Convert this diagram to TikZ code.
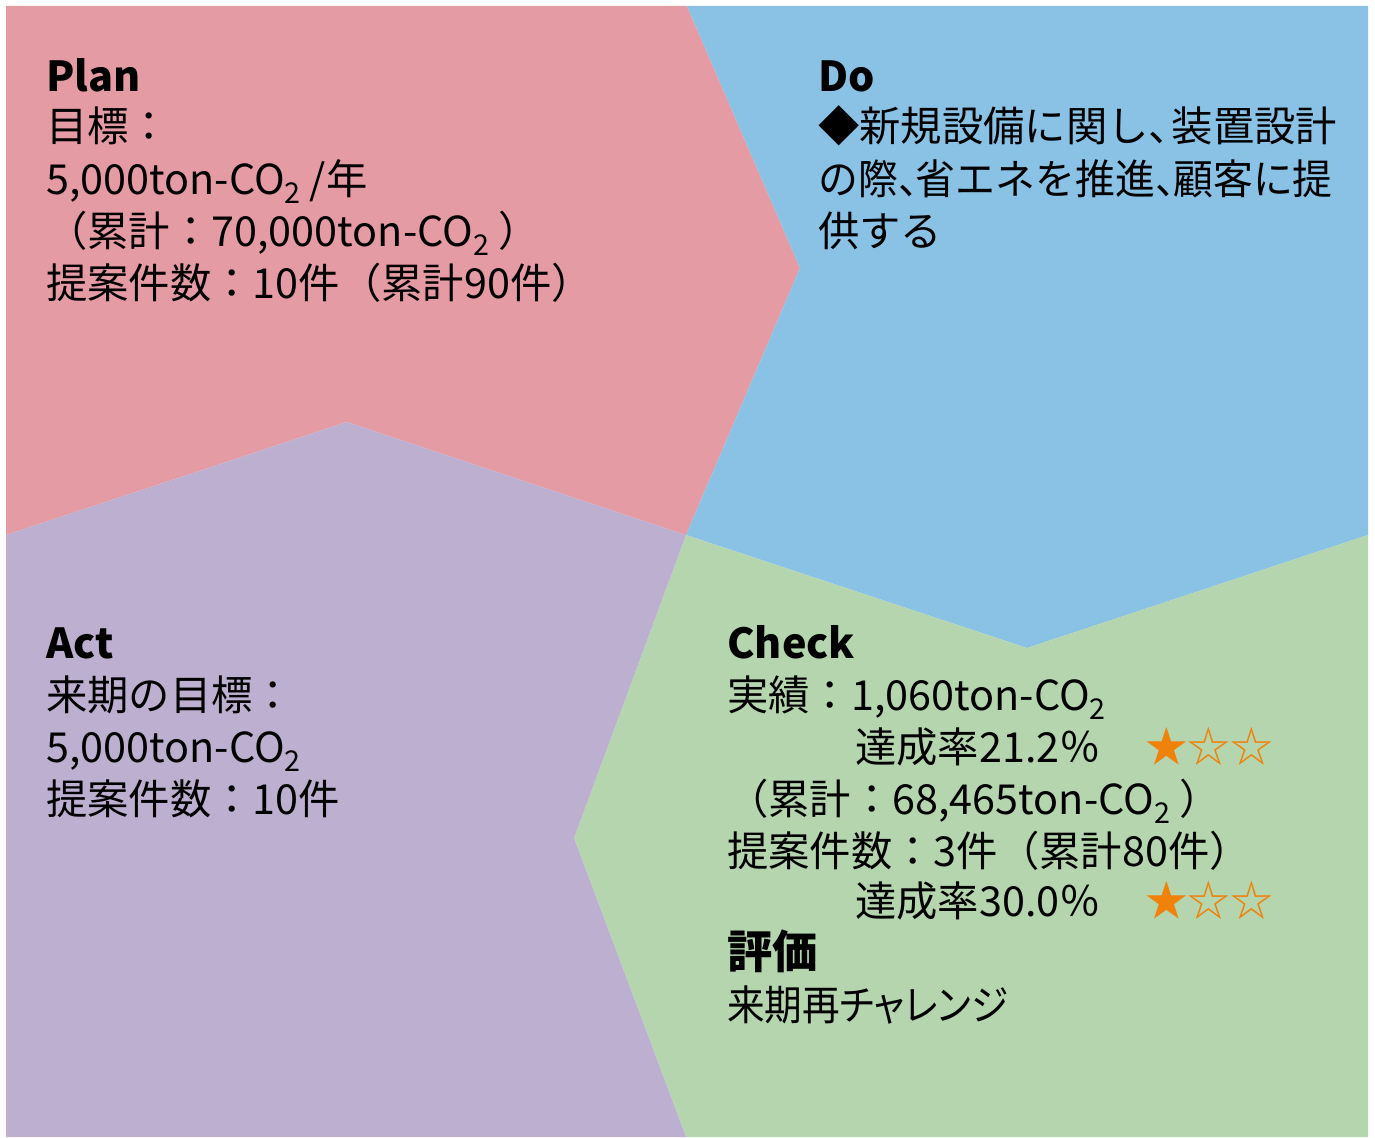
\documentclass[tikz,border=0pt]{standalone}
\usepackage{fontspec}
\setmainfont{Noto Sans CJK JP}
\definecolor{planc}{RGB}{229,155,163}
\definecolor{doc}{RGB}{138,194,230}
\definecolor{actc}{RGB}{189,175,208}
\definecolor{checkc}{RGB}{180,213,174}
\definecolor{starorange}{RGB}{240,130,10}
\newcommand{\cotwo}{CO\raisebox{-0.22em}{\fontsize{21.5}{21.5}\selectfont 2}}
\newcommand{\tou}{\makebox[0.55em][l]{、}}
\newcommand{\toun}{\makebox[0.45em][l]{、}}
\begin{document}
\begin{tikzpicture}[x=0.75pt,y=-0.75pt,
  txt/.style={anchor=base west, inner sep=0pt, font=\fontsize{31}{39}\selectfont},
  ttl/.style={anchor=base west, inner sep=0pt, font=\fontsize{31}{39}\selectfont\bfseries},
  starline/.style={anchor=base west, inner sep=0pt, font=\fontsize{32}{39}\selectfont, text=starorange}]
\useasboundingbox (0,0) rectangle (1375,1138);
\fill[white] (0,0) rectangle (1375,1138);
% regions
\fill[planc] (6,6) -- (687,6) -- (800,268) -- (686,535) -- (347,422) -- (6,535) -- cycle;
\fill[doc] (687,6) -- (1368,6) -- (1368,535) -- (1027,648) -- (686,535) -- (800,268) -- cycle;
\fill[checkc] (686,535) -- (1027,648) -- (1368,535) -- (1368,1137) -- (686,1137) -- (574,838) -- cycle;
\fill[actc] (6,535) -- (347,422) -- (686,535) -- (574,838) -- (686,1137) -- (6,1137) -- cycle;
% Plan
\node[ttl] (plant) at (46,92) {Plan};
\node[txt] (plan1) at (46,142) {目標：};
\node[txt] (plan2) at (46,194) {5,000ton-\cotwo{} /年};
\node[txt] (plan3) at (46,246) {（累計：70,000ton-\cotwo{} ）};
\node[txt] (plan4) at (46,298) {提案件数：10件（累計90件）};
% Do
\node[ttl] (dot) at (818,92) {Do};
\node[txt] (do1) at (818,142) {◆新規設備に関し\tou 装置設計};
\node[txt] (do2) at (818,194) {\scalebox{0.965}[1]{の際\toun 省エネを推進\toun 顧客に提}};
\node[txt] (do3) at (818,246) {供する};
% Act
\node[ttl] (actt) at (46,658) {Act};
\node[txt] (act1) at (46,710) {来期の目標：};
\node[txt] (act2) at (46,762) {5,000ton-\cotwo};
\node[txt] (act3) at (46,814) {提案件数：10件};
% Check
\node[ttl] (chkt) at (727,658) {Check};
\node[txt] (chk1) at (727,710) {実績：1,060ton-\cotwo};
\node[txt] (chk2) at (855,762) {達成率21.2％};
\node[starline] (star1) at (1145,762) {★☆☆};
\node[txt] (chk3) at (727,814) {（累計：68,465ton-\cotwo{} ）};
\node[txt] (chk4) at (727,866) {提案件数：3件（累計80件）};
\node[txt] (chk5) at (855,916) {達成率30.0％};
\node[starline] (star2) at (1145,916) {★☆☆};
\node[anchor=base west, inner sep=0pt, font=\fontsize{34}{39}\selectfont\bfseries] (chk6) at (727,968) {評価};
\node[txt] (chk7) at (727,1020) {\scalebox{0.91}[1]{\addfontfeature{RawFeature=+palt}来期再チャレンジ}};
\end{tikzpicture}
\end{document}
